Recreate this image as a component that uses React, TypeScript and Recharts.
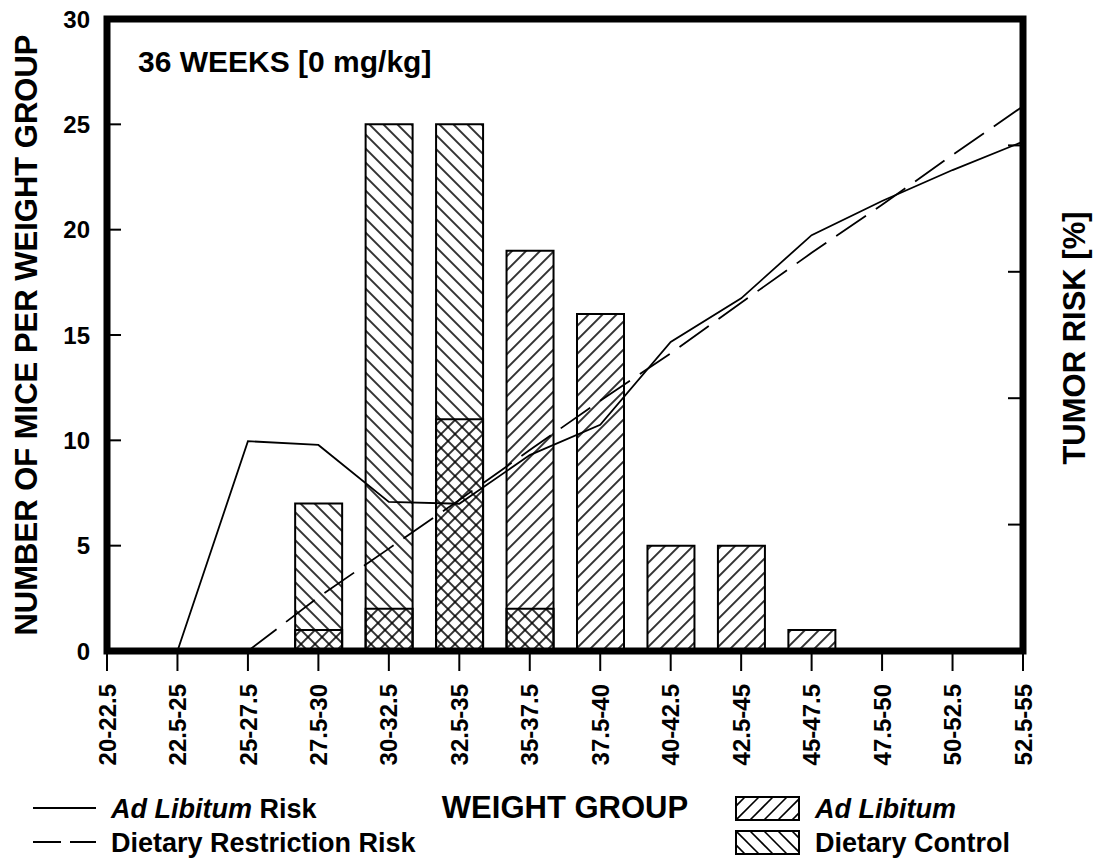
import React from "react";
import { ComposedChart, Bar, Line, XAxis, YAxis, ReferenceArea } from "recharts";

const FONT = "'Liberation Sans', Arial, Helvetica, sans-serif";

// weight groups (g) on the x axis
const weightGroups = [
  "20-22.5", "22.5-25", "25-27.5", "27.5-30", "30-32.5", "32.5-35", "35-37.5",
  "37.5-40", "40-42.5", "42.5-45", "45-47.5", "47.5-50", "50-52.5", "52.5-55",
];

// number of mice per weight group
const adLibitumMice = [null, null, null, 1, 2, 11, 19, 16, 5, 5, 1, null, null, null];
const dietaryControlMice = [null, null, null, 7, 25, 25, 2, null, null, null, null, null, null, null];

// tumor risk [%] (right axis)
const adLibitumRisk = [null, 0, 33.2, 32.6, 23.6, 23.3, 31.0, 35.8, 48.9, 55.8, 65.8, 71.2, 76.1, 80.6];
const dietaryRestrictionRisk = [null, null, 0, 8.5, 16.2, 23.9, 31.8, 39.6, 47.1, 55.1, 63.0, 70.6, 78.5, 86.2];

const miceTicks = [0, 5, 10, 15, 20, 25, 30];
const riskTicks = [0, 20, 40, 60, 80, 100];

const data = weightGroups.map((g, i) => ({
  idx: i,
  group: g,
  adLib: adLibitumMice[i],
  dietCtrl: dietaryControlMice[i],
  adLibRisk: adLibitumRisk[i],
  drRisk: dietaryRestrictionRisk[i],
}));

const XTick = (props: any) => {
  const { x, y, payload } = props;
  return (
    <text
      x={0}
      y={0}
      transform={`translate(${x},${y}) rotate(-90)`}
      textAnchor="end"
      dy="0.36em"
      fontSize={24}
      fontWeight="bold"
      fontFamily={FONT}
      fill="#000"
    >
      {weightGroups[payload.value]}
    </text>
  );
};

// label outside, tick mark pointing into the frame
const LeftTick = (props: any) => {
  const { x, y, payload } = props;
  return (
    <g>
      <text x={x} y={y} dy="0.36em" textAnchor="end" fontSize={24} fontWeight="bold" fontFamily={FONT} fill="#000">
        {payload.value}
      </text>
      <line x1={x + 17} x2={x + 31} y1={y} y2={y} stroke="#000" strokeWidth={2} />
    </g>
  );
};

const RightTick = (props: any) => {
  const { x, y } = props;
  return <line x1={x - 15} x2={x} y1={y} y2={y} stroke="#000" strokeWidth={2} />;
};

// "up" = ////, "down" = \\\\
const Hatch = ({ id, dir }: { id: string; dir: "up" | "down" }) => (
  <pattern
    id={id}
    patternUnits="userSpaceOnUse"
    width={9.9}
    height={9.9}
    patternTransform={`rotate(${dir === "up" ? 45 : -45})`}
  >
    <line x1={4.95} y1={-1} x2={4.95} y2={11} stroke="#000" strokeWidth={1.6} />
  </pattern>
);

// legend box drawn with plain hatch lines
const Swatch = ({ x, y, dir, id }: { x: number; y: number; dir: "up" | "down"; id: string }) => {
  const w = 63;
  const h = 23;
  const offs = [-2, -1, 0, 1, 2, 3, 4, 5].map((k) => k * 14);
  return (
    <g>
      <clipPath id={id}>
        <rect x={x} y={y} width={w} height={h} />
      </clipPath>
      <g clipPath={`url(#${id})`}>
        {offs.map((t) =>
          dir === "up" ? (
            <line key={t} x1={x + t} y1={y + h} x2={x + t + h} y2={y} stroke="#000" strokeWidth={1.6} />
          ) : (
            <line key={t} x1={x + t} y1={y} x2={x + t + h} y2={y + h} stroke="#000" strokeWidth={1.6} />
          )
        )}
      </g>
      <rect x={x} y={y} width={w} height={h} fill="none" stroke="#000" strokeWidth={2} />
    </g>
  );
};

const txt = { fontFamily: FONT, fontWeight: "bold" as const, fill: "#000" };

export default function App() {
  return (
    <div style={{ position: "absolute", left: 0, top: 0, width: 1099, height: 859, background: "#fff" }}>
      <ComposedChart
        width={1099}
        height={859}
        data={data}
        margin={{ top: 19, right: 56, bottom: 88, left: 47 }}
        barGap={-47}
      >
        <defs>
          <Hatch id="hatchAL" dir="up" />
          <Hatch id="hatchDC" dir="down" />
        </defs>
        <XAxis
          dataKey="idx"
          type="number"
          domain={[0, 13]}
          ticks={weightGroups.map((_, i) => i)}
          interval={0}
          height={120}
          tickSize={20}
          tickMargin={13}
          axisLine={false}
          tickLine={{ stroke: "#000", strokeWidth: 2 }}
          tick={<XTick />}
        />
        <YAxis
          yAxisId="left"
          domain={[0, 30]}
          ticks={miceTicks}
          width={60}
          tickSize={0}
          tickMargin={17}
          axisLine={false}
          tickLine={false}
          tick={<LeftTick />}
        />
        <YAxis
          yAxisId="right"
          orientation="right"
          domain={[0, 100]}
          ticks={riskTicks}
          width={20}
          tickSize={0}
          tickMargin={0}
          axisLine={false}
          tickLine={false}
          tick={<RightTick />}
        />
        <Bar yAxisId="left" dataKey="dietCtrl" barSize={47} fill="url(#hatchDC)" stroke="#000" strokeWidth={2} isAnimationActive={false} />
        <Bar yAxisId="left" dataKey="adLib" barSize={47} fill="url(#hatchAL)" stroke="#000" strokeWidth={2} isAnimationActive={false} />
        <Line yAxisId="right" dataKey="adLibRisk" type="linear" stroke="#000" strokeWidth={1.8} dot={false} activeDot={false} isAnimationActive={false} />
        <Line yAxisId="right" dataKey="drRisk" type="linear" stroke="#000" strokeWidth={1.8} strokeDasharray="36 12" dot={false} activeDot={false} isAnimationActive={false} />
        <ReferenceArea yAxisId="left" x1={0} x2={13} y1={0} y2={30} fill="none" stroke="#000" strokeWidth={7} ifOverflow="visible" />
      </ComposedChart>

      <svg width={1099} height={859} style={{ position: "absolute", left: 0, top: 0, pointerEvents: "none" }}>
        <text x={138} y={72} fontSize={30} {...txt}>36 WEEKS [0 mg/kg]</text>
        <text transform="translate(37,335) rotate(-90)" textAnchor="middle" fontSize={31} {...txt}>
          NUMBER OF MICE PER WEIGHT GROUP
        </text>
        <text transform="translate(1085,338) rotate(-90)" textAnchor="middle" fontSize={31} {...txt}>
          TUMOR RISK [%]
        </text>
        <text x={565} y={818} textAnchor="middle" fontSize={31} {...txt}>WEIGHT GROUP</text>

        <line x1={33} x2={96} y1={808} y2={808} stroke="#000" strokeWidth={2} />
        <line x1={33} x2={96} y1={842} y2={842} stroke="#000" strokeWidth={2} strokeDasharray="28 9" />
        <text x={111} y={818} fontSize={27} {...txt}>
          <tspan fontStyle="italic">Ad Libitum</tspan>
          {" Risk"}
        </text>
        <text x={111} y={852} fontSize={27} {...txt}>Dietary Restriction Risk</text>

        <Swatch id="swAL" x={736} y={797} dir="up" />
        <Swatch id="swDC" x={736} y={831} dir="down" />
        <text x={815} y={818} fontSize={27} fontStyle="italic" {...txt}>Ad Libitum</text>
        <text x={815} y={852} fontSize={27} {...txt}>Dietary Control</text>
      </svg>
    </div>
  );
}
